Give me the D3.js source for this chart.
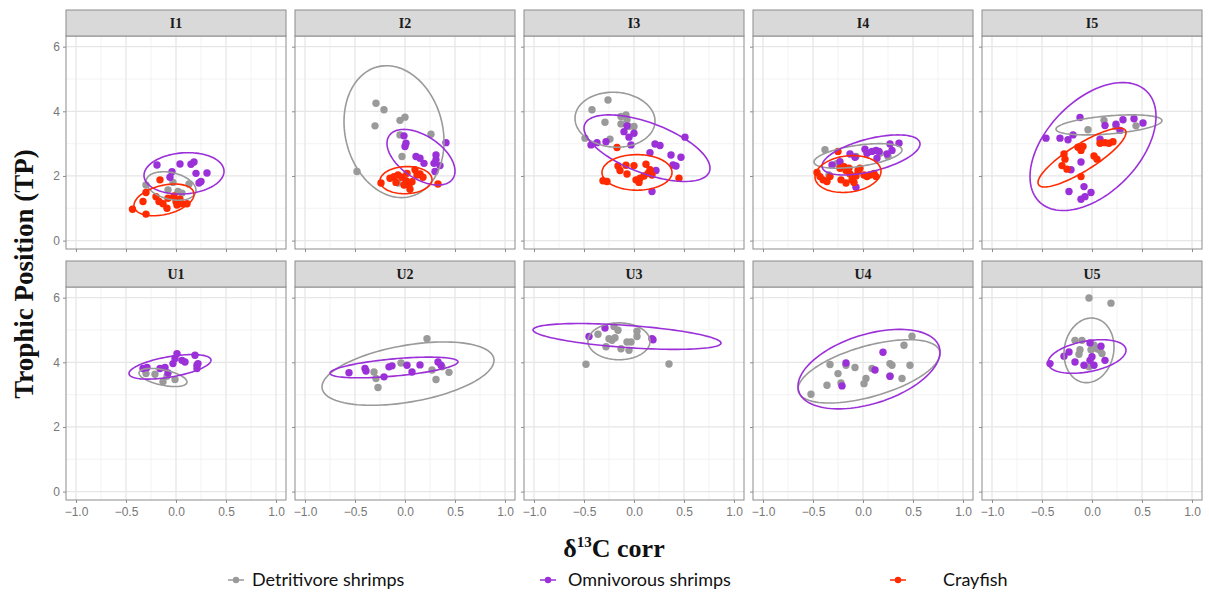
<!DOCTYPE html>
<html>
<head>
<meta charset="utf-8">
<script src="https://cdn.jsdelivr.net/npm/d3@7"></script>
<style>
  body { margin: 0; background: #fff; }
  svg { display: block; }
</style>
</head>
<body>
<svg id="chart" width="1209" height="597"></svg>
<script>
// facets, in drawing order (top row I, bottom row U)
var panels = ["I1", "I2", "I3", "I4", "I5", "U1", "U2", "U3", "U4", "U5"]

var groups = ["Detritivore shrimps", "Omnivorous shrimps", "Crayfish"]
var colours = ["#9a9a9a", "#9b30d9", "#ff2a00"]

var xTicks = [-1.0, -0.5, 0.0, 0.5, 1.0]
var xMinor = [-0.75, -0.25, 0.25, 0.75]
var yTicks = [0, 2, 4, 6]
var yMinor = [1, 3, 5]

// points: [x (d13C corr), y (TP)]
var detritivore = {
  I1: [[-0.30, 1.72], [0.13, 1.75], [-0.08, 1.57], [0.02, 1.52], [0.06, 1.47], [-0.03, 1.80]],
  I2: [[-0.29, 4.25], [-0.21, 4.05], [-0.30, 3.55], [-0.05, 3.72], [0.00, 3.82], [0.26, 3.29],
       [-0.03, 2.60], [-0.48, 2.14], [-0.07, 1.78], [-0.05, 3.27]],
  I3: [[-0.26, 4.35], [-0.42, 4.05], [-0.29, 3.66], [-0.13, 3.84], [-0.08, 3.89], [-0.07, 3.74],
       [-0.13, 3.61], [-0.05, 3.53], [0.00, 3.53], [-0.49, 3.17], [-0.24, 3.14]],
  I4: [[-0.38, 2.81], [-0.26, 2.39], [-0.34, 2.03], [-0.07, 2.60], [0.17, 2.70], [0.25, 2.60]],
  I5: [[-0.04, 3.43], [0.12, 3.72], [0.44, 3.55], [0.24, 3.53]],
  U1: [[-0.30, 3.65], [-0.13, 3.40], [-0.01, 3.47], [-0.21, 3.63], [-0.09, 3.57]],
  U2: [[0.22, 4.73], [-0.04, 3.98], [-0.31, 3.70], [-0.29, 3.50], [-0.27, 3.22], [0.27, 3.76],
       [0.31, 3.47], [0.37, 3.86], [0.44, 3.69]],
  U3: [[-0.36, 4.87], [-0.20, 5.11], [-0.16, 4.99], [0.03, 4.96], [0.03, 4.80], [-0.25, 4.73],
       [-0.22, 4.68], [-0.19, 4.76], [-0.28, 4.48], [-0.13, 4.42], [-0.07, 4.63], [-0.03, 4.63],
       [-0.05, 4.37], [-0.48, 3.94], [0.35, 3.95]],
  U4: [[-0.52, 3.01], [-0.36, 3.29], [-0.33, 3.93], [-0.25, 3.65], [-0.22, 3.36], [-0.17, 3.91],
       [-0.08, 3.84], [0.01, 3.34], [0.03, 3.50], [0.09, 3.81], [0.27, 3.96], [0.29, 3.91],
       [0.27, 3.57], [0.39, 3.50], [0.47, 3.91], [0.41, 4.53], [0.49, 4.81]],
  U5: [[-0.03, 5.99], [0.19, 5.83], [-0.17, 4.68], [-0.10, 4.68], [-0.12, 4.39], [-0.13, 4.25],
       [-0.01, 4.39], [0.02, 4.53], [0.05, 4.42], [0.08, 4.37], [0.10, 4.27], [-0.03, 3.86]]
}

var omnivorous = {
  I1: [[-0.19, 2.34], [-0.04, 2.13], [0.04, 2.37], [0.15, 2.36], [0.18, 2.43], [0.20, 2.08],
       [0.31, 2.09], [0.23, 1.78], [0.25, 1.83], [-0.06, 1.96]],
  I2: [[-0.01, 3.24], [0.01, 3.01], [0.00, 2.91], [0.41, 3.03], [0.11, 2.60], [0.15, 2.55],
       [0.19, 2.39], [0.31, 2.65], [0.31, 2.50], [0.35, 2.32], [0.30, 2.14], [0.29, 2.39]],
  I3: [[-0.43, 2.96], [-0.37, 3.03], [-0.28, 3.06], [-0.10, 3.37], [-0.07, 3.55], [0.00, 3.32],
       [-0.05, 3.20], [-0.03, 2.96], [0.21, 2.99], [0.26, 2.94], [0.16, 2.72], [0.37, 2.65],
       [0.47, 2.58], [0.39, 2.34], [0.42, 2.31], [0.22, 2.17], [0.51, 3.20], [0.18, 1.52]],
  I4: [[-0.31, 2.34], [-0.23, 2.44], [-0.13, 2.68], [-0.08, 2.58], [0.02, 2.83], [0.04, 2.70],
       [0.09, 2.76], [0.13, 2.79], [0.16, 2.76], [0.14, 2.55], [0.24, 2.68], [0.27, 2.99],
       [0.29, 2.79], [0.36, 3.01], [-0.07, 1.65]],
  I5: [[-0.46, 3.17], [-0.32, 3.17], [-0.24, 3.12], [-0.19, 3.27], [-0.12, 3.81], [0.13, 3.56],
       [0.24, 3.60], [0.31, 3.74], [0.42, 3.77], [0.51, 3.64], [0.28, 3.41], [-0.11, 2.43],
       [-0.21, 2.19], [-0.23, 1.52], [-0.11, 1.28], [-0.07, 1.36], [-0.01, 1.49], [-0.08, 1.67],
       [0.08, 3.14]],
  U1: [[-0.33, 3.81], [-0.29, 3.84], [-0.16, 3.81], [-0.11, 3.84], [-0.08, 3.67], [-0.03, 3.96],
       [0.01, 4.27], [-0.01, 4.12], [0.06, 4.06], [0.09, 4.01], [0.19, 4.22], [0.21, 3.91],
       [0.22, 3.96], [0.21, 3.81]],
  U2: [[-0.56, 3.68], [-0.40, 3.81], [-0.39, 3.73], [-0.21, 3.55], [-0.16, 3.86], [-0.13, 3.89],
       [0.02, 3.91], [0.07, 3.70], [0.15, 3.92], [0.33, 4.01], [0.36, 3.91]],
  U3: [[-0.45, 4.80], [-0.29, 5.06], [0.18, 4.73], [0.19, 4.70]],
  U4: [[-0.17, 3.98], [-0.21, 3.27], [0.12, 3.76], [0.20, 4.31], [0.27, 3.57]],
  U5: [[-0.42, 3.96], [-0.28, 4.19], [-0.23, 4.32], [-0.17, 4.01], [-0.08, 3.91], [-0.02, 4.60],
       [0.00, 4.17], [0.02, 3.91], [0.09, 4.50], [0.13, 4.06], [-0.02, 4.06]]
}

var crayfish = {
  I1: [[-0.435, 0.97], [-0.30, 0.82], [-0.33, 1.21], [-0.30, 1.49], [-0.16, 1.88], [-0.20, 1.36],
       [-0.17, 1.21], [-0.13, 1.14], [-0.09, 1.00], [-0.08, 1.31], [-0.02, 1.38], [0.00, 1.21],
       [0.04, 1.28], [0.01, 1.10], [0.11, 1.14], [0.06, 1.14]],
  I2: [[-0.24, 1.78], [-0.15, 1.93], [-0.11, 1.98], [-0.07, 2.03], [-0.03, 1.96], [0.01, 1.85],
       [0.02, 2.08], [0.04, 1.72], [0.05, 1.59], [0.07, 1.82], [0.10, 2.19], [0.12, 2.03],
       [0.15, 2.06], [0.18, 1.96], [0.33, 1.75], [-0.09, 1.80], [-0.01, 1.72]],
  I3: [[-0.17, 2.88], [-0.31, 1.85], [-0.27, 1.83], [-0.16, 2.31], [-0.14, 2.17], [-0.08, 2.33],
       [-0.07, 2.06], [0.00, 2.32], [0.02, 1.88], [0.05, 1.80], [0.06, 1.93], [0.10, 2.00],
       [0.12, 2.36], [0.14, 2.08], [0.16, 2.19], [0.18, 2.03], [0.45, 1.93]],
  I4: [[-0.46, 2.11], [-0.43, 1.98], [-0.40, 1.88], [-0.36, 1.83], [-0.33, 1.98], [-0.25, 2.76],
       [-0.23, 2.24], [-0.19, 2.29], [-0.17, 2.17], [-0.14, 2.24], [-0.13, 2.06], [-0.11, 1.88],
       [-0.09, 1.80], [-0.07, 2.00], [-0.05, 2.17], [-0.03, 2.24], [0.01, 2.03], [0.04, 1.98],
       [0.07, 2.03], [0.11, 2.08], [0.13, 1.98], [-0.22, 1.88], [-0.17, 1.78]],
  I5: [[-0.28, 2.68], [-0.27, 2.52], [-0.30, 2.32], [-0.25, 2.21], [-0.14, 2.89], [-0.09, 2.91],
       [-0.11, 2.79], [0.02, 2.62], [0.05, 2.52], [0.08, 3.01], [0.13, 3.03], [0.17, 3.01],
       [0.21, 3.06], [-0.11, 1.98]],
  U1: [], U2: [], U3: [], U4: [], U5: []
}

// standard ellipses: panel, group index, centre x, centre y, half width, half height, correlation
var ellipses = [
  ["I1", 0, -0.05, 1.69, 0.25, 0.44, -0.30],
  ["I1", 1, 0.08, 2.08, 0.40, 0.64, 0.10],
  ["I1", 2, -0.12, 1.26, 0.30, 0.49, 0.35],
  ["I2", 0, -0.11, 3.37, 0.50, 2.04, -0.15],
  ["I2", 1, 0.16, 2.58, 0.34, 0.86, -0.50],
  ["I2", 2, 0.01, 1.87, 0.26, 0.42, 0.05],
  ["I3", 0, -0.19, 3.74, 0.40, 0.85, -0.05],
  ["I3", 1, 0.13, 2.86, 0.63, 1.03, -0.60],
  ["I3", 2, 0.03, 2.11, 0.35, 0.55, 0.00],
  ["I4", 0, -0.05, 2.62, 0.44, 0.38, 0.49],
  ["I4", 1, 0.08, 2.65, 0.49, 0.62, 0.55],
  ["I4", 2, -0.15, 2.06, 0.33, 0.57, 0.15],
  ["I5", 0, 0.17, 3.58, 0.53, 0.31, 0.43],
  ["I5", 1, 0.01, 2.91, 0.63, 1.98, 0.47],
  ["I5", 2, -0.10, 2.57, 0.44, 0.91, 0.85],
  ["U1", 0, -0.13, 3.53, 0.24, 0.28, -0.50],
  ["U1", 1, -0.06, 3.86, 0.41, 0.38, 0.54],
  ["U2", 0, 0.03, 3.65, 0.86, 0.98, 0.42],
  ["U2", 1, -0.11, 3.84, 0.64, 0.32, 0.55],
  ["U3", 0, -0.15, 4.65, 0.31, 0.57, 0.00],
  ["U3", 1, -0.07, 4.80, 0.94, 0.40, -0.51],
  ["U4", 0, 0.06, 3.72, 0.71, 0.98, 0.56],
  ["U4", 1, 0.06, 3.79, 0.71, 1.23, 0.43],
  ["U5", 0, -0.03, 4.37, 0.25, 1.00, 0.10],
  ["U5", 1, -0.05, 4.18, 0.39, 0.52, 0.37]
]

var pointSets = [detritivore, omnivorous, crayfish]

var svg = d3.select("#chart")

var panelW = 220,
    panelH = 213,
    stripH = 26,
    left0 = 66,
    step = 229,
    rowTop = [10, 261]

var x = d3.scaleLinear().domain([-1.1, 1.1]).range([0, panelW])
var y = d3.scaleLinear().domain([-0.26, 6.33]).range([panelH, 0])

var serif = "'Liberation Serif', 'Times New Roman', serif"
var sans = "'Liberation Sans', Arial, sans-serif"

panels.forEach(function(name, i) {

  var col = i % 5,
      row = Math.floor(i / 5)

  var px = left0 + col * step,
      py = rowTop[row] + stripH

  var g = svg.append("g")
      .attr("transform", "translate(" + px + "," + py + ")")

  // strip
  svg.append("rect")
      .attr("x", px)
      .attr("y", rowTop[row])
      .attr("width", panelW)
      .attr("height", stripH)
      .attr("fill", "#d9d9d9")
      .attr("stroke", "#8c8c8c")
      .attr("stroke-width", 1)

  svg.append("text")
      .attr("x", px + panelW / 2)
      .attr("y", rowTop[row] + stripH / 2 + 5)
      .attr("text-anchor", "middle")
      .attr("font-family", serif)
      .attr("font-weight", "bold")
      .attr("font-size", 14)
      .attr("fill", "#1a1a1a")
      .text(name)

  // grid
  g.append("g")
    .selectAll("line")
    .data(xMinor)
    .join("line")
      .attr("x1", d => x(d)).attr("x2", d => x(d))
      .attr("y1", 0).attr("y2", panelH)
      .attr("stroke", "#f0f0f0").attr("stroke-width", 0.8)

  g.append("g")
    .selectAll("line")
    .data(yMinor)
    .join("line")
      .attr("y1", d => y(d)).attr("y2", d => y(d))
      .attr("x1", 0).attr("x2", panelW)
      .attr("stroke", "#f0f0f0").attr("stroke-width", 0.8)

  g.append("g")
    .selectAll("line")
    .data(xTicks)
    .join("line")
      .attr("x1", d => x(d)).attr("x2", d => x(d))
      .attr("y1", 0).attr("y2", panelH)
      .attr("stroke", "#e6e6e6").attr("stroke-width", 1.3)

  g.append("g")
    .selectAll("line")
    .data(yTicks)
    .join("line")
      .attr("y1", d => y(d)).attr("y2", d => y(d))
      .attr("x1", 0).attr("x2", panelW)
      .attr("stroke", "#e6e6e6").attr("stroke-width", 1.3)

  // axes: ticks on every panel, labels only on the outer ones
  var xAxis = d3.axisBottom(x).tickValues(xTicks).tickSize(3).tickPadding(4)
      .tickFormat(row == 1 ? d3.format(".1f") : "")
  var yAxis = d3.axisLeft(y).tickValues(yTicks).tickSize(3).tickPadding(3)
      .tickFormat(col == 0 ? d3.format("d") : "")

  var xa = g.append("g")
      .attr("transform", "translate(0," + panelH + ")")
      .call(xAxis)
  var ya = g.append("g").call(yAxis)

  ;[xa, ya].forEach(function(a) {
    a.select(".domain").remove()
    a.selectAll(".tick line").attr("stroke", "#8c8c8c")
    a.selectAll(".tick text")
        .attr("fill", "#777")
        .attr("font-family", sans)
        .attr("font-size", 12)
  })

  // points
  pointSets.forEach(function(set, k) {
    g.append("g")
      .selectAll("circle")
      .data(set[name])
      .join("circle")
        .attr("cx", d => x(d[0]))
        .attr("cy", d => y(d[1]))
        .attr("r", 3.7)
        .attr("fill", colours[k])
  })

  // ellipses
  var line = d3.line()
      .x(d => x(d[0]))
      .y(d => y(d[1]))
      .curve(d3.curveLinearClosed)

  ellipses.filter(e => e[0] == name).forEach(function(e) {
    var phi = Math.acos(e[6])
    var pts = d3.range(0, 2 * Math.PI, Math.PI / 60).map(function(t) {
      return [e[2] + e[4] * Math.cos(t), e[3] + e[5] * Math.cos(t - phi)]
    })
    g.append("path")
        .attr("d", line(pts))
        .attr("fill", "none")
        .attr("stroke", colours[e[1]])
        .attr("stroke-width", 1.6)
  })

  // panel border
  g.append("rect")
      .attr("width", panelW)
      .attr("height", panelH)
      .attr("fill", "none")
      .attr("stroke", "#8c8c8c")
      .attr("stroke-width", 1)
})

// axis titles
var xt = svg.append("text")
    .attr("x", 614)
    .attr("y", 557)
    .attr("text-anchor", "middle")
    .attr("font-family", serif)
    .attr("font-weight", "bold")
    .attr("font-size", 26)
    .attr("fill", "#111")
xt.append("tspan").text("\u03b4")
xt.append("tspan").attr("font-size", 15).attr("dy", -10).text("13")
xt.append("tspan").attr("dy", 10).text("C corr")

svg.append("text")
    .attr("transform", "translate(33,274) rotate(-90)")
    .attr("text-anchor", "middle")
    .attr("font-family", serif)
    .attr("font-weight", "bold")
    .attr("font-size", 27)
    .attr("fill", "#111")
    .text("Trophic Position (TP)")

// legend
var legendX = [228, 540, 890],
    legendText = [252, 568, 943]

groups.forEach(function(name, k) {
  var lg = svg.append("g")
  lg.append("line")
      .attr("x1", legendX[k]).attr("x2", legendX[k] + 16)
      .attr("y1", 580).attr("y2", 580)
      .attr("stroke", colours[k]).attr("stroke-width", 1.5)
  lg.append("circle")
      .attr("cx", legendX[k] + 8).attr("cy", 580)
      .attr("r", 3.2)
      .attr("fill", colours[k])
  lg.append("text")
      .attr("x", legendText[k])
      .attr("y", 586)
      .attr("font-family", "Lato, 'Open Sans', sans-serif")
      .attr("font-size", 18)
      .attr("fill", "#111")
      .text(name)
})
</script>
</body>
</html>
